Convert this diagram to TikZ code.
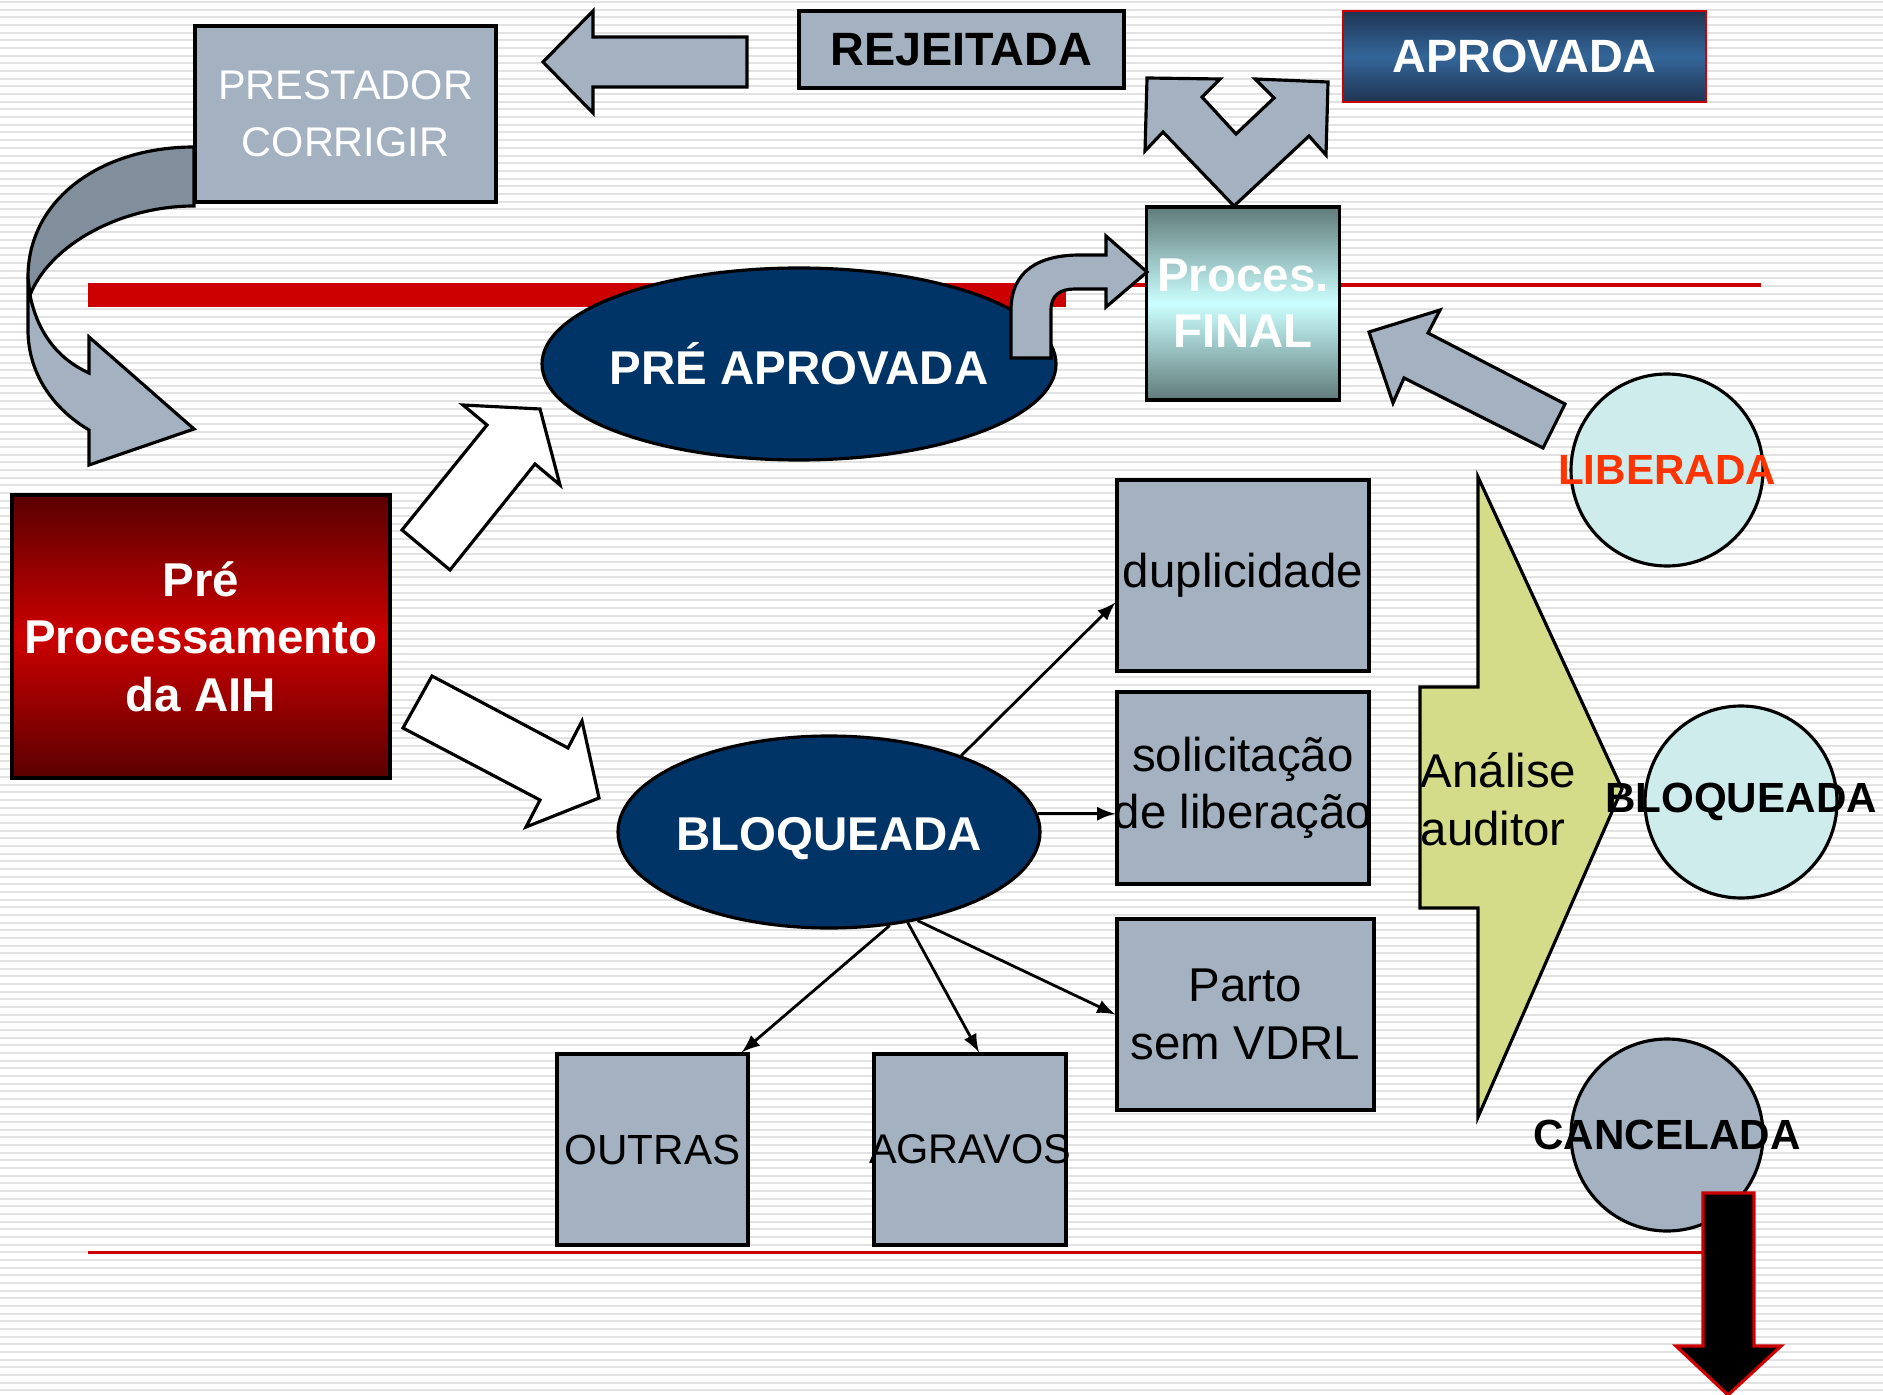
\documentclass[tikz,border=0pt]{standalone}
\usepackage{fontspec}
\setmainfont{Liberation Sans}
\usepackage{tikz}
\usetikzlibrary{shapes.geometric}

\definecolor{boxgray}{RGB}{163,177,192}
\definecolor{foldgray}{RGB}{128,143,155}
\definecolor{navy}{RGB}{0,51,102}
\definecolor{palecyan}{RGB}{207,236,236}
\definecolor{auditgreen}{RGB}{212,220,138}
\definecolor{barred}{RGB}{204,0,0}
\definecolor{stripegray}{RGB}{226,226,226}
\definecolor{libred}{RGB}{255,51,0}
\definecolor{prepdark}{RGB}{90,0,0}
\definecolor{prepred}{RGB}{204,0,0}
\definecolor{aprovdark}{RGB}{31,52,82}
\definecolor{aprovblue}{RGB}{51,102,153}
\definecolor{finaldark}{RGB}{95,123,122}
\definecolor{finallight}{RGB}{204,255,255}

\tikzset{
  gbox/.style={draw, fill=boxgray, line width=0.9pt, inner ysep=0pt, inner xsep=-0.08cm, align=center, font=\fontsize{13.5}{16.4}\selectfont},
  oval/.style={draw, ellipse, fill=navy, line width=0.9pt, minimum height=1.92cm},
  ovaltext/.style={text=white, font=\bfseries\fontsize{13.5}{16.4}\selectfont},
  circ/.style={draw, circle, line width=0.9pt, minimum size=1.92cm},
  circtext/.style={font=\bfseries\fontsize{12}{14}\selectfont},
  blockarrow/.style={draw, line width=0.9pt, fill=boxgray},
  link/.style={-latex, line width=0.8pt},
}

\begin{document}
\begin{tikzpicture}
  % Background
  \fill[white] (0,0) rectangle (18.83,-13.95);
  \useasboundingbox (0,0) rectangle (18.83,-13.95);
  \foreach \k in {0,...,181}
    \draw[stripegray, line width=0.02cm] (0,{-0.021-0.0767*\k}) -- (18.83,{-0.021-0.0767*\k});
  % Red lines
  \draw[barred, line width=0.04cm] (0.88,-2.85) -- (17.61,-2.85);
  \fill[barred] (0.88,-2.84) rectangle (10.66,-3.07);
  \draw[barred, line width=0.03cm] (0.88,-12.52) -- (17.03,-12.52);

  % Top row
  \node[gbox, text=white, font=\fontsize{11.8}{16.2}\selectfont, minimum width=3.01cm, minimum height=1.76cm] (prest) at (3.455,-1.14) {PRESTADOR\\CORRIGIR};
  \node[gbox, font=\bfseries\fontsize{13.3}{16}\selectfont, minimum width=3.25cm, minimum height=0.77cm] (rej) at (9.615,-0.495) {REJEITADA};
  \node[draw=barred, line width=0.7pt, top color=aprovdark, bottom color=aprovdark, middle color=aprovblue, text=white, font=\bfseries\fontsize{13.3}{16}\selectfont, minimum width=3.63cm, minimum height=0.91cm] (aprov) at (15.245,-0.565) {APROVADA};
  \draw[blockarrow] (7.47,-0.37) -- (5.93,-0.37) -- (5.93,-0.11) -- (5.43,-0.62) -- (5.93,-1.13) -- (5.93,-0.87) -- (7.47,-0.87) -- cycle;
  \draw[blockarrow] (11.47,-0.78) -- (12.20,-0.79) -- (12.02,-0.97) -- (12.36,-1.34) -- (12.74,-0.98) -- (12.55,-0.79) -- (13.28,-0.82) -- (13.26,-1.55) -- (13.09,-1.36) -- (12.34,-2.06) -- (11.63,-1.32) -- (11.45,-1.51) -- cycle;

  % Curved arrow back to the start
  \draw[blockarrow] (0.28,-2.77) -- (0.28,-3.30) .. controls (0.28,-3.75) and (0.55,-4.10) .. (0.89,-4.30) -- (0.89,-4.65) -- (1.94,-4.29) -- (0.89,-3.37) -- (0.89,-3.73) .. controls (0.60,-3.60) and (0.38,-3.35) .. (0.30,-2.95) -- cycle;
  \draw[blockarrow, fill=foldgray] (1.94,-1.47) .. controls (1.00,-1.47) and (0.28,-2.00) .. (0.28,-2.77) -- (0.30,-2.95) .. controls (0.50,-2.45) and (1.20,-2.06) .. (1.94,-2.06) -- cycle;

  % Main nodes
  \node[draw, line width=0.9pt, top color=prepdark, bottom color=prepdark, middle color=prepred, text=white, align=center, inner sep=0pt, font=\bfseries\fontsize{13.5}{16.4}\selectfont, minimum width=3.78cm, minimum height=2.83cm] (prep) at (2.01,-6.365) {Pré\\Processamento\\da AIH};
  \node[oval, minimum width=5.14cm, label={[ovaltext]center:PRÉ APROVADA}] (preap) at (7.99,-3.64) {};
  \node[oval, minimum width=4.22cm, label={[ovaltext, yshift=-0.07cm]center:BLOQUEADA}] (bloq) at (8.29,-8.32) {};
  \node[draw, line width=0.9pt, top color=finaldark, bottom color=finaldark, middle color=finallight, text=white, align=center, inner sep=0pt, font=\bfseries\fontsize{13.5}{16}\selectfont, minimum size=1.93cm] (final) at (12.43,-3.035) {Proces.\\FINAL};

  % Block arrows
  \draw[blockarrow, fill=white] (4.02,-5.30) -- (4.87,-4.25) -- (4.63,-4.05) -- (5.40,-4.09) -- (5.60,-4.85) -- (5.35,-4.64) -- (4.50,-5.70) -- cycle;
  \draw[blockarrow, fill=white] (4.32,-6.76) -- (5.68,-7.48) -- (5.82,-7.21) -- (5.99,-7.98) -- (5.26,-8.27) -- (5.40,-8.00) -- (4.03,-7.28) -- cycle;
  \draw[blockarrow] (10.11,-3.58) -- (10.11,-3.10) .. controls (10.11,-2.70) and (10.40,-2.55) .. (10.80,-2.55) -- (11.06,-2.55) -- (11.06,-2.36) -- (11.47,-2.72) -- (11.06,-3.07) -- (11.06,-2.89) -- (10.75,-2.89) .. controls (10.60,-2.89) and (10.51,-2.95) .. (10.51,-3.10) -- (10.51,-3.58) -- cycle;
  \draw[blockarrow] (13.69,-3.32) -- (14.40,-3.10) -- (14.28,-3.33) -- (15.65,-4.04) -- (15.43,-4.48) -- (14.04,-3.78) -- (13.93,-4.03) -- cycle;

  % Reasons
  \node[gbox, minimum width=2.52cm, minimum height=1.91cm] (dup) at (12.43,-5.755) {duplicidade};
  \node[gbox, minimum width=2.52cm, minimum height=1.92cm] (soli) at (12.43,-7.88) {solicitação\\de liberação};
  \node[gbox, minimum width=2.57cm, minimum height=1.91cm] (parto) at (12.455,-10.145) {Parto\\sem VDRL};
  \node[gbox, font=\fontsize{12}{14}\selectfont, minimum width=1.91cm, minimum height=1.91cm] (outras) at (6.525,-11.495) {OUTRAS};
  \node[gbox, font=\fontsize{11.8}{14}\selectfont, minimum width=1.92cm, minimum height=1.91cm] (agr) at (9.70,-11.495) {AGRAVOS};
  \draw[link] (bloq.30) -- ([yshift=-0.27cm]dup.west);
  \draw[link] (bloq.5) -- (bloq.5 -| soli.west);
  \draw[link] (bloq.-45) -- (parto.west);
  \draw[link] (bloq.-57) -- ([xshift=-0.08cm]outras.north east);
  \draw[link] (bloq.-49) -- ([xshift=0.09cm]agr.north);

  % Audit
  \draw[draw, line width=0.9pt, fill=auditgreen] (14.20,-6.87) -- (14.78,-6.87) -- (14.78,-4.77) -- (16.22,-7.89) -- (14.78,-11.17) -- (14.78,-9.08) -- (14.20,-9.08) -- cycle;
  \node[anchor=west, align=left, inner sep=0pt, font=\fontsize{13.5}{16.4}\selectfont] (analise) at (14.20,-7.99) {Análise\\auditor};
  \node[circ, fill=palecyan, label={[circtext, text=libred]center:LIBERADA}] (lib) at (16.67,-4.70) {};
  \node[circ, fill=palecyan, label={[circtext]center:BLOQUEADA}] (bloq2) at (17.41,-8.02) {};
  \node[circ, fill=boxgray, label={[circtext]center:CANCELADA}] (canc) at (16.67,-11.35) {};
  \draw[draw=barred, line width=0.9pt, fill=black] (17.03,-11.93) -- (17.54,-11.93) -- (17.54,-13.46) -- (17.81,-13.46) -- (17.28,-13.95) -- (16.76,-13.46) -- (17.03,-13.46) -- cycle;
\end{tikzpicture}
\end{document}
